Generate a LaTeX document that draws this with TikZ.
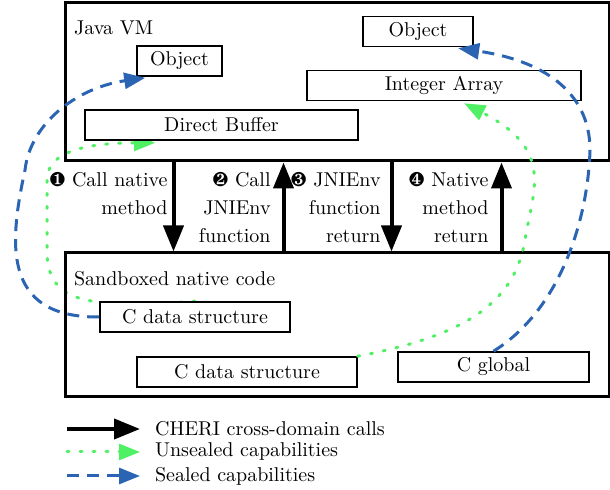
\documentclass[tikz,border=0pt]{standalone}
\usepackage{pifont}
\usetikzlibrary{arrows.meta,calc}
\definecolor{capblue}{RGB}{43,100,178}
\definecolor{capgreen}{RGB}{80,240,100}
\pgfdeclarelayer{bg}
\pgfsetlayers{bg,main}
\tikzset{
  domainbox/.style={draw, line width=1.5pt, inner sep=0pt, minimum width=272pt},
  obj/.style={draw, fill=white, line width=0.8pt, inner sep=0pt, minimum height=15pt},
  call/.style={line width=2pt, -{Triangle[length=13pt,width=10pt]}},
  unsealed/.style={capgreen, line width=1.5pt, line cap=round, dash pattern=on 1pt off 5.5pt, -{Triangle[length=10.5pt,width=8pt]}},
  sealed/.style={capblue, line width=1.5pt, dash pattern=on 6pt off 4pt, -{Triangle[length=10.5pt,width=8pt]}},
  steplbl/.style={anchor=north east, align=right, inner sep=0pt, font=\fontsize{10}{14}\selectfont},
}
\begin{document}
\begin{tikzpicture}[x=0.5pt,y=-0.5pt]
    \useasboundingbox (0,0) rectangle (610,490);
    % domains
    \node (jvm) [domainbox, minimum height=79pt] at (337,82) {};
    \node (jvmlbl) [anchor=west] at (67,28) {Java VM};
    \node (sbx) [domainbox, minimum height=72pt] at (337,325) {};
    \node (sbxlbl) [anchor=west] at (67,279) {Sandboxed native code};
    % objects
    \node (obj1) [obj, minimum width=42.5pt] at (179.5,61) {Object};
    \node (obj2) [obj, minimum width=55pt] at (418,31.5) {Object};
    \node (intarr) [obj, minimum width=137pt] at (444,85.5) {Integer Array};
    \node (dbuf) [obj, minimum width=136.5pt] at (221.5,125) {Direct Buffer};
    \node (cds1) [obj, minimum width=95pt] at (195,317) {C data structure};
    \node (cds2) [obj, minimum width=110pt] at (247,372) {C data structure};
    \node (cglob) [obj, minimum width=95.5pt] at (493.5,367) {C global};
    % cross-domain calls
    \draw[call] ([xshift=55pt]jvm.south west) -- ([xshift=55pt]sbx.north west);
    \draw[call] ([xshift=110pt]sbx.north west) -- ([xshift=110pt]jvm.south west);
    \draw[call] ([xshift=164pt]jvm.south west) -- ([xshift=164pt]sbx.north west);
    \draw[call] ([xshift=219pt]sbx.north west) -- ([xshift=219pt]jvm.south west);
    \node (lbl1) [steplbl] at (168,172) {\ding{182} Call native\\method};
    \node (lbl2) [steplbl] at (271,172) {\ding{183} Call\\JNIEnv\\function};
    \node (lbl3) [steplbl] at (381,172) {\ding{184} JNIEnv\\function\\return};
    \node (lbl4) [steplbl] at (489,172) {\ding{185} Native\\method\\return};
    % capabilities
    \begin{pgfonlayer}{bg}
      \draw[unsealed] (cds1.north) .. controls (80,310) and (47,300) .. (47,250)
        -- (47,180) .. controls (47,150) and (90,143) .. ($(dbuf.south west)+(71,2)$);
    \end{pgfonlayer}
    \draw[sealed] (cds1.west) .. controls (0,318) and (10,240) .. (25,170)
      .. controls (30,125) and (75,88) .. ($(obj1.south west)+(9,1)$);
    \draw[unsealed] (cds2.north east) .. controls (470,335) and (515,300) .. (525,240)
      .. controls (533,190) and (555,150) .. ($(intarr.south west)+(158,2)$);
    \draw[sealed] (cglob.north) .. controls (560,310) and (588,220) .. (590,150)
      .. controls (590,90) and (540,60) .. ($(obj2.south west)+(96,1)$);
    % legend
    \coordinate (k1) at (67,429);
    \coordinate (k2) at (67,452);
    \coordinate (k3) at (67,476);
    \node (leg1) [anchor=west] at (148,429) {CHERI cross-domain calls};
    \node (leg2) [anchor=west] at (148,452) {Unsealed capabilities};
    \node (leg3) [anchor=west] at (148,476) {Sealed capabilities};
    \draw[call] (k1) -- ([xshift=-4pt]leg1.west);
    \draw[unsealed] (k2) -- ([xshift=-4pt]leg2.west);
    \draw[sealed] (k3) -- ([xshift=-4pt]leg3.west);
  \end{tikzpicture}
\end{document}
